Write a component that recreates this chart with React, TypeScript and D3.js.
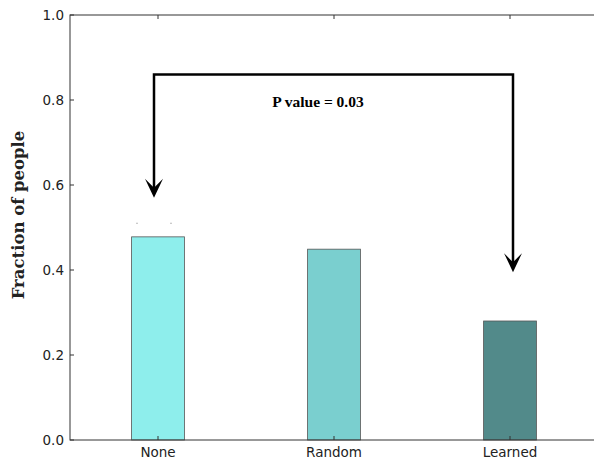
import React from "react";
import * as d3 from "d3";

const categories = ["None", "Random", "Learned"];
const values = [0.478, 0.449, 0.28];
const colors = ["#8eeeec", "#7acfcf", "#528a8a"];
const yTicks = [0.0, 0.2, 0.4, 0.6, 0.8, 1.0];
const pLabel = "P value = 0.03";
const bracketLevel = 0.86;
const arrowTips = [0.57, 0.395];

export default function App() {
  const W = 594, H = 461;
  const left = 70, right = 598, top = 15, bottom = 440;
  const x = d3.scaleBand<string>().domain(categories).range([left, right]).padding(0);
  const y = d3.scaleLinear().domain([0, 1]).range([bottom, top]);
  const step = x.step();
  const bw = step * 0.3;
  const cx = (c: string) => (x(c) as number) + step / 2;

  const xA = cx(categories[0]) - 4;
  const xB = cx(categories[2]) + 3;
  const yTop = y(bracketLevel);

  const arrowHead = (tx: number, ty: number) => {
    const w = 9, h = 19, notch = 9;
    return `M${tx},${ty} L${tx - w},${ty - h} L${tx},${ty - notch - 1} L${tx + w},${ty - h} Z`;
  };

  return (
    <svg width={W} height={H} style={{ position: "absolute", left: 0, top: 0, background: "#fff" }}>
      {categories.map((c, i) => (
        <rect key={c} x={cx(c) - bw / 2} y={y(values[i])} width={bw} height={bottom - y(values[i])}
          fill={colors[i]} stroke="#555" strokeWidth={0.8} />
      ))}
      <line x1={136} x2={138} y1={y(0.51)} y2={y(0.51)} stroke="#bbb" strokeWidth={1} />
      <line x1={170} x2={172} y1={y(0.51)} y2={y(0.51)} stroke="#bbb" strokeWidth={1} />
      <rect x={left} y={top} width={right - left} height={bottom - top} fill="none" stroke="#333" strokeWidth={1} />
      {yTicks.map((t) => (
        <g key={t}>
          <line x1={left} x2={left + 4} y1={y(t)} y2={y(t)} stroke="#333" />
          <line x1={right - 4} x2={right} y1={y(t)} y2={y(t)} stroke="#333" />
          <text x={left - 6} y={y(t)} dy="0.36em" textAnchor="end" fontFamily="DejaVu Sans" fontSize={13.5} fill="#222">
            {d3.format(".1f")(t)}
          </text>
        </g>
      ))}
      {categories.map((c) => (
        <g key={c}>
          <line x1={cx(c)} x2={cx(c)} y1={bottom} y2={bottom - 4} stroke="#333" />
          <line x1={cx(c)} x2={cx(c)} y1={top} y2={top + 4} stroke="#333" />
          <text x={cx(c)} y={bottom + 17} textAnchor="middle" fontFamily="DejaVu Sans" fontSize={13.5} fill="#222">
            {c}
          </text>
        </g>
      ))}
      <text transform={`translate(24,215) rotate(-90)`} textAnchor="middle"
        fontFamily="DejaVu Serif" fontWeight="bold" fontSize={16.5} fill="#222">
        Fraction of people
      </text>
      <path d={`M${xA},${y(arrowTips[0]) - 8} L${xA},${yTop} L${xB},${yTop} L${xB},${y(arrowTips[1]) - 8}`}
        fill="none" stroke="#000" strokeWidth={2.5} />
      <path d={arrowHead(xA, y(arrowTips[0]))} fill="#000" />
      <path d={arrowHead(xB, y(arrowTips[1]))} fill="#000" />
      <text x={318} y={107} textAnchor="middle" fontFamily="Liberation Serif" fontWeight="bold"
        fontSize={15.5} fill="#000">
        {pLabel}
      </text>
    </svg>
  );
}
